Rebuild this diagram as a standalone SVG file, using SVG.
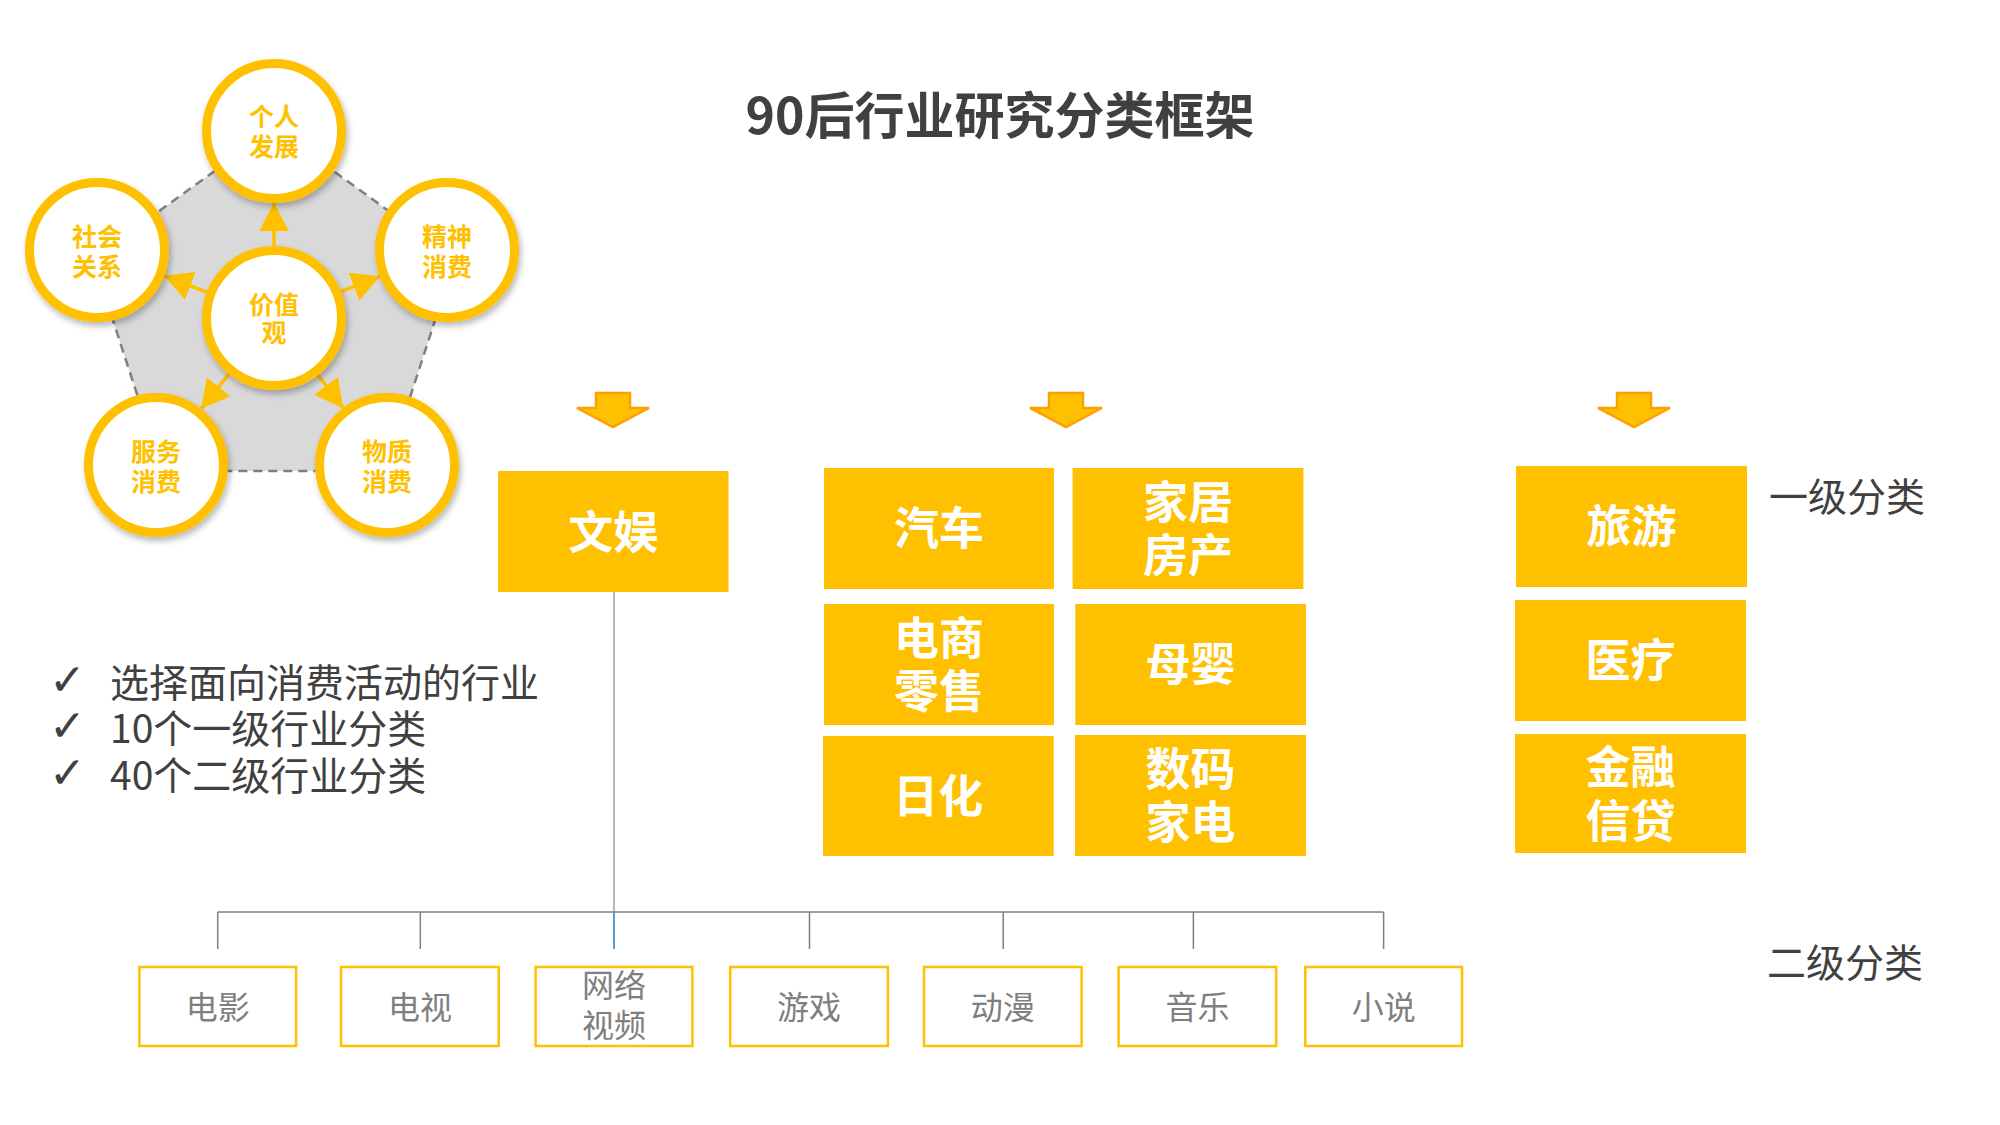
<svg xmlns="http://www.w3.org/2000/svg" width="2000" height="1125" viewBox="0 0 2000 1125">
<style>
.cjk{font-family:"Noto Sans CJK SC","Liberation Sans",sans-serif}
.ring{fill:#FFFFFF;stroke:#FFC000;stroke-width:9}
.ctext{font-family:"Noto Sans CJK SC",sans-serif;font-weight:700;font-size:25px;fill:#FFC000;text-anchor:middle}
.l1{fill:#FFC000}
.l1t{font-family:"Noto Sans CJK SC",sans-serif;font-weight:700;font-size:45px;fill:#FFFFFF;text-anchor:middle}
.l2{fill:#FFFFFF;stroke:#FFC000;stroke-width:2.5}
.l2t{font-family:"Noto Sans CJK SC",sans-serif;font-weight:400;font-size:32px;fill:#7F7F7F;text-anchor:middle}
.dark{font-family:"Noto Sans CJK SC",sans-serif;font-weight:400;font-size:39px;fill:#404040}
.chk{font-family:"DejaVu Sans",sans-serif;font-weight:200;font-size:44px;fill:#404040}
.darr{fill:#FFC000;stroke:#FF9F00;stroke-width:2.5;stroke-linejoin:miter}
.varrow{stroke:#FFC000;stroke-width:3.5;fill:none;marker-end:url(#ah)}
.tree{stroke:#7F7F7F;stroke-width:1.5;fill:none}
</style>
<defs>
<marker id="ah" markerUnits="userSpaceOnUse" viewBox="0 0 28 30" markerWidth="28" markerHeight="30" refX="28" refY="15" orient="auto">
<path d="M0,0 L28,15 L0,30 z" fill="#FFC000"/>
</marker>
<filter id="sh" x="-20%" y="-20%" width="140%" height="150%">
<feDropShadow dx="2" dy="4" stdDeviation="3" flood-color="#000000" flood-opacity="0.28"/>
</filter>
</defs>
<rect width="2000" height="1125" fill="#FFFFFF"/>

<text class="cjk" x="1000" y="134" font-size="50" font-weight="700" fill="#404040" text-anchor="middle">90后行业研究分类框架</text>

<polygon points="274,128 455,259 386,471 162,471 93,259" fill="#D9D9D9" stroke="#7F7F7F" stroke-width="2.5" stroke-dasharray="9 6"/>

<g id="connectors">
<line class="varrow" x1="274" y1="246" x2="274" y2="203"/>
<line class="varrow" x1="206.8" y1="292.2" x2="164.2" y2="275.8"/>
<line class="varrow" x1="341" y1="291.7" x2="380" y2="276.3"/>
<line class="varrow" x1="228.9" y1="374.2" x2="201.1" y2="408.8"/>
<line class="varrow" x1="317.9" y1="375.1" x2="343.1" y2="407.9"/>
<line x1="614" y1="592" x2="614" y2="912" stroke="#A6A6A6" stroke-width="1.6"/>
<line class="tree" x1="217.7" y1="912" x2="1383.6" y2="912"/>
<line class="tree" x1="217.7" y1="912" x2="217.7" y2="949"/>
<line class="tree" x1="420.3" y1="912" x2="420.3" y2="949"/>
<line x1="614" y1="912" x2="614" y2="949" stroke="#5B9BD5" stroke-width="2"/>
<line class="tree" x1="809.5" y1="912" x2="809.5" y2="949"/>
<line class="tree" x1="1003.2" y1="912" x2="1003.2" y2="949"/>
<line class="tree" x1="1193.4" y1="912" x2="1193.4" y2="949"/>
<line class="tree" x1="1383.6" y1="912" x2="1383.6" y2="949"/>
</g>

<g id="node-geren">
<circle class="ring" cx="274" cy="131" r="67.5" filter="url(#sh)"/>
<text class="ctext" x="274" y="126">个人<tspan x="274" dy="30">发展</tspan></text>
</g>
<g id="node-shehui">
<circle class="ring" cx="97" cy="250" r="67.5" filter="url(#sh)"/>
<text class="ctext" x="97" y="246">社会<tspan x="97" dy="30">关系</tspan></text>
</g>
<g id="node-jingshen">
<circle class="ring" cx="447" cy="250" r="67.5" filter="url(#sh)"/>
<text class="ctext" x="447" y="246">精神<tspan x="447" dy="30">消费</tspan></text>
</g>
<g id="node-fuwu">
<circle class="ring" cx="156" cy="465" r="67.5" filter="url(#sh)"/>
<text class="ctext" x="156" y="461">服务<tspan x="156" dy="30">消费</tspan></text>
</g>
<g id="node-wuzhi">
<circle class="ring" cx="387" cy="465" r="67.5" filter="url(#sh)"/>
<text class="ctext" x="387" y="461">物质<tspan x="387" dy="30">消费</tspan></text>
</g>
<g id="node-jiazhiguan">
<circle class="ring" cx="274" cy="318" r="67.5" filter="url(#sh)"/>
<text class="ctext" x="274" y="314">价值<tspan x="274" dy="28">观</tspan></text>
</g>

<g id="down-arrows">
<path class="darr" d="M596,393 H630 V408 H649 L613,427 L577,408 H596 Z"/>
<path class="darr" d="M1049,393 H1083 V408 H1102 L1066,427 L1030,408 H1049 Z"/>
<path class="darr" d="M1617,393 H1651 V408 H1670 L1634,427 L1598,408 H1617 Z"/>
</g>

<g id="node-wenyu"><rect class="l1" x="498" y="471" width="230.5" height="121"/><text class="l1t" x="613.2" y="549">文娱</text></g>
<g id="node-qiche"><rect class="l1" x="824" y="468" width="230" height="121"/><text class="l1t" x="939" y="545">汽车</text></g>
<g id="node-jiaju"><rect class="l1" x="1072.6" y="468" width="230.8" height="121"/><text class="l1t" x="1188" y="519">家居<tspan x="1188" dy="53">房产</tspan></text></g>
<g id="node-dianshang"><rect class="l1" x="824" y="604" width="230" height="121"/><text class="l1t" x="939" y="655">电商<tspan x="939" dy="53">零售</tspan></text></g>
<g id="node-muying"><rect class="l1" x="1075.3" y="604" width="230.7" height="121"/><text class="l1t" x="1190.6" y="681">母婴</text></g>
<g id="node-rihua"><rect class="l1" x="823" y="736" width="230.7" height="120"/><text class="l1t" x="938.3" y="813">日化</text></g>
<g id="node-shuma"><rect class="l1" x="1075" y="735" width="231" height="121"/><text class="l1t" x="1190.5" y="786">数码<tspan x="1190.5" dy="53">家电</tspan></text></g>
<g id="node-lvyou"><rect class="l1" x="1516" y="466" width="231" height="121"/><text class="l1t" x="1631.5" y="543">旅游</text></g>
<g id="node-yiliao"><rect class="l1" x="1515" y="600" width="231" height="121"/><text class="l1t" x="1630.5" y="677">医疗</text></g>
<g id="node-jinrong"><rect class="l1" x="1515" y="734" width="231" height="119"/><text class="l1t" x="1630.5" y="784">金融<tspan x="1630.5" dy="54">信贷</tspan></text></g>

<g id="node-dianying"><rect class="l2" x="139.4" y="967" width="156.7" height="79"/><text class="l2t" x="217.7" y="1019">电影</text></g>
<g id="node-dianshi"><rect class="l2" x="341" y="967" width="157.7" height="79"/><text class="l2t" x="419.9" y="1019">电视</text></g>
<g id="node-wangluo"><rect class="l2" x="535.6" y="967" width="156.8" height="79"/><text class="l2t" x="614" y="997">网络<tspan x="614" dy="40">视频</tspan></text></g>
<g id="node-youxi"><rect class="l2" x="730.2" y="967" width="157.7" height="79"/><text class="l2t" x="809" y="1019">游戏</text></g>
<g id="node-dongman"><rect class="l2" x="924" y="967" width="157.6" height="79"/><text class="l2t" x="1002.8" y="1019">动漫</text></g>
<g id="node-yinyue"><rect class="l2" x="1118.6" y="967" width="157.6" height="79"/><text class="l2t" x="1197.4" y="1019">音乐</text></g>
<g id="node-xiaoshuo"><rect class="l2" x="1305.3" y="967" width="156.7" height="79"/><text class="l2t" x="1383.7" y="1019">小说</text></g>

<g id="bullets">
<text class="chk" x="49" y="695">✓</text>
<text class="chk" x="49" y="741">✓</text>
<text class="chk" x="49" y="788">✓</text>
<text class="dark" x="110" y="697">选择面向消费活动的行业</text>
<text class="dark" x="110" y="743">10个一级行业分类</text>
<text class="dark" x="110" y="790">40个二级行业分类</text>
</g>

<text class="dark" x="1769" y="511">一级分类</text>
<text class="dark" x="1767" y="977">二级分类</text>
</svg>
